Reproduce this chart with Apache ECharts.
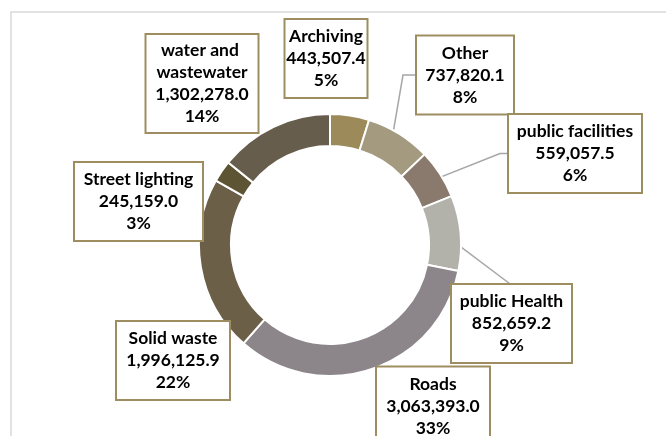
<!DOCTYPE html>
<html>
<head>
<meta charset="utf-8">
<script src="https://cdn.jsdelivr.net/npm/echarts@6/dist/echarts.min.js"></script>
<style>
  html, body { margin: 0; padding: 0; background: #fff; }
  #chart { width: 666px; height: 436px; }
</style>
</head>
<body>
<div id="chart"></div>
<script>
// Spending by sector (clockwise from 12 o'clock)
const categories = [
  'Archiving', 'Other', 'public facilities', 'public Health',
  'Roads', 'Solid waste', 'Street lighting', 'water and wastewater'
];
const amounts = [
  443507.4, 737820.1, 559057.5, 852659.2,
  3063393.0, 1996125.9, 245159.0, 1302278.0
];

// Slice fills
const sliceColors = [
  '#9c8a5a', '#a39a80', '#8a7a6e', '#b2b1aa',
  '#8c868a', '#6b5f47', '#5d5434', '#665d4c'
];

// Callout boxes: centre x, centre y, width, height
const boxLayout = [
  [326, 58.5, 81, 77],
  [465, 75, 96, 77],
  [575, 153.5, 132, 77],
  [511.5, 323.5, 119, 77],
  [433, 406, 112, 77],
  [173, 360.5, 112, 77],
  [138.5, 201.5, 127, 77],
  [202, 83.5, 111, 97]
];
// Leader lines: null = none; ['left', elbow] or ['top']
const leaderSpec = [null, ['left', 14], ['left', 9], ['top'], null, null, null, null];

const CX = 330, CY = 245, R_IN = 99, R_OUT = 131;
const LINE_H = 22;
const total = amounts.reduce((a, b) => a + b, 0);

// mid-angle point of each slice, halfway across the ring
const ringMid = [];
(function () {
  let cum = 0;
  const rm = (R_IN + R_OUT) / 2;
  amounts.forEach(v => {
    const a = (cum + v / 2) / total * Math.PI * 2;
    ringMid.push([CX + rm * Math.sin(a), CY - rm * Math.cos(a)]);
    cum += v;
  });
})();

const fmt = v => v.toLocaleString('en-US', { minimumFractionDigits: 1, maximumFractionDigits: 1 });

const data = categories.map((name, i) => {
  const b = boxLayout[i];
  const lines = name === 'water and wastewater' ? 4 : 3;
  const padV = Math.max(0, (b[3] - lines * LINE_H) / 2);
  return {
    name: name,
    value: amounts[i],
    itemStyle: { color: sliceColors[i] },
    label: {
      width: b[2],
      padding: [padV, 0, padV, 0]
    },
    labelLine: { show: leaderSpec[i] != null }
  };
});

const chart = echarts.init(document.getElementById('chart'), null, { renderer: 'canvas' });
chart.setOption({
  backgroundColor: '#ffffff',
  animation: false,
  graphic: [{
    type: 'rect',
    shape: { x: 11, y: 12, width: 700, height: 500 },
    style: { fill: 'none', stroke: '#d9d9d9', lineWidth: 1.5 },
    silent: true
  }],
  series: [{
    type: 'pie',
    center: [CX, CY],
    radius: [R_IN, R_OUT],
    startAngle: 90,
    clockwise: true,
    avoidLabelOverlap: false,
    itemStyle: { borderColor: '#ffffff', borderWidth: 2 },
    label: {
      show: true,
      position: 'outside',
      formatter: p => {
        const pct = Math.round(p.value / total * 100) + '%';
        return p.name + '\n' + fmt(p.value) + '\n' + pct;
      },
      overflow: 'break',
      fontFamily: 'Lato',
      fontWeight: 'bold',
      fontSize: 17.5,
      lineHeight: LINE_H,
      color: '#000000',
      align: 'center',
      backgroundColor: '#ffffff',
      borderColor: '#9e8d60',
      borderWidth: 2
    },
    labelLine: {
      show: true,
      length: 10,
      length2: 10,
      lineStyle: { color: '#a6a6a6', width: 1.5 }
    },
    labelLayout: p => {
      const i = p.dataIndex;
      const b = boxLayout[i];
      const out = { x: b[0], y: b[1], align: 'center', verticalAlign: 'middle' };
      const s = leaderSpec[i];
      if (s) {
        const start = ringMid[i];
        const left = b[0] - b[2] / 2;
        const top = b[1] - b[3] / 2;
        if (s[0] === 'left') {
          out.labelLinePoints = [start, [left - s[1], b[1]], [left, b[1]]];
        } else {
          out.labelLinePoints = [start, [b[0], top], [b[0], top]];
        }
      }
      return out;
    },
    data: data
  }]
});
</script>
</body>
</html>
